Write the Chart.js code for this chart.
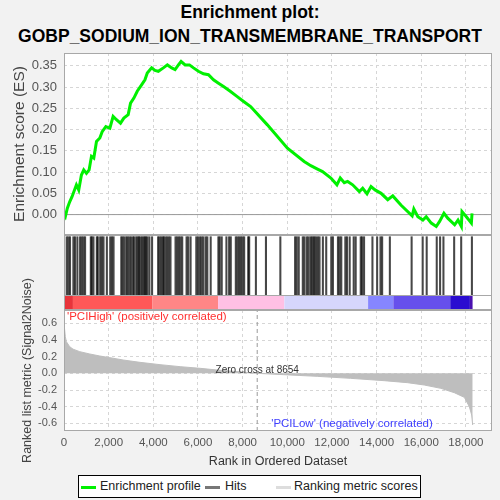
<!DOCTYPE html>
<html lang="en">
<head>
<meta charset="UTF-8" />
<title>Enrichment plot: GOBP_SODIUM_ION_TRANSMEMBRANE_TRANSPORT</title>
<script src="https://cdn.jsdelivr.net/npm/chart.js"></script>
<style>
  body { margin: 0; background: #f2f2f2; font-family: "Liberation Sans", Arial, sans-serif; }
  #wrap { position: relative; width: 500px; height: 500px; overflow: hidden; }
  canvas { position: absolute; left: 0; }
  #title { position: absolute; top: 0; left: 0; width: 500px; text-align: center;
           font-weight: bold; font-size: 17.5px; line-height: 24px; color: #000; }
  #legend { position: absolute; left: 78px; top: 475px; width: 341px; height: 21px;
            border: 1px solid #000; background: #fff; font-size: 12.5px; color: #222; }
  #legend .sw { position: absolute; top: 10px; height: 3px; width: 15px; }
  #legend .lb { position: absolute; top: 3px; white-space: nowrap; }
</style>
</head>
<body>
<div id="wrap">
  <div id="title">Enrichment plot:<br />GOBP_SODIUM_ION_TRANSMEMBRANE_TRANSPORT</div>
  <canvas id="esChart" width="500" height="236" style="top:0"></canvas>
  <canvas id="metricChart" width="500" height="250" style="top:250px"></canvas>
  <canvas id="hitChart" width="500" height="75" style="top:235px"></canvas>
  <div id="legend">
    <span class="sw" style="left:2px;background:#00f000"></span><span class="lb" style="left:21px">Enrichment profile</span>
    <span class="sw" style="left:126px;background:#777"></span><span class="lb" style="left:146px">Hits</span>
    <span class="sw" style="left:197px;background:#ddd"></span><span class="lb" style="left:215px">Ranking metric scores</span>
  </div>
</div>

<script>
  // data
  const xMax = 19170;
  const zeroCross = 8654;
  const xTicks = [0, 2000, 4000, 6000, 8000, 10000, 12000, 14000, 16000, 18000];
  const esTicks = [0, 0.05, 0.10, 0.15, 0.20, 0.25, 0.30, 0.35];
  const metricTicks = [-0.6, -0.4, -0.2, 0.0, 0.2, 0.4, 0.6];

  const esRanks = [0, 60, 150, 255, 360, 555, 660, 780, 885, 1005, 1125, 1230, 1335, 1455, 1605,
    1710, 1875, 2055, 2200, 2350, 2530, 2680, 2875, 2980, 3130, 3280, 3475, 3625, 3730, 3925,
    4075, 4225, 4450, 4630, 4825, 4975, 5125, 5245, 5425, 5620, 5800, 6020, 6245, 6470, 6695,
    6920, 7145, 7445, 7745, 8045, 8359, 9108, 10007, 10756, 11055, 11355, 11580, 11954, 12224,
    12374, 12554, 12703, 12928, 13228, 13378, 13572, 13752, 13932, 14202, 14501, 14726, 15100,
    15594, 15669, 15849, 16074, 16224, 16449, 16673, 16823, 17018, 17198, 17497, 17647, 17797,
    17827, 18021, 18246, 18276];
  const esValues = [0, -0.005, 0.015, 0.030, 0.042, 0.070, 0.058, 0.093, 0.105, 0.097, 0.105, 0.137,
    0.133, 0.172, 0.180, 0.195, 0.207, 0.203, 0.231, 0.223, 0.215, 0.227, 0.235, 0.262, 0.274,
    0.290, 0.305, 0.317, 0.333, 0.345, 0.339, 0.337, 0.345, 0.352, 0.345, 0.341, 0.352, 0.360,
    0.352, 0.352, 0.345, 0.337, 0.331, 0.329, 0.317, 0.309, 0.301, 0.290, 0.278, 0.266, 0.254,
    0.211, 0.156, 0.125, 0.115, 0.107, 0.101, 0.086, 0.070, 0.086, 0.075, 0.078, 0.070, 0.054,
    0.062, 0.049, 0.066, 0.058, 0.050, 0.035, 0.044, 0.022, -0.003, 0.013, -0.005, -0.013, -0.005,
    -0.020, -0.028, -0.016, 0.003, -0.009, -0.024, -0.013, -0.028, 0.007, -0.005, -0.020, 0.003];

  const hitRanks = [120, 195, 270, 420, 495, 600, 720, 795, 870, 945, 1200, 1245, 1320, 1470, 1515,
    1620, 1695, 1770, 1920, 2070, 2145, 2220, 2565, 2625, 2700, 2790, 2850, 2925, 3000, 3090,
    3150, 3240, 3300, 3360, 3420, 3495, 3570, 3615, 3675, 3735, 3825, 3945, 4215, 4275, 4350,
    4425, 4470, 4545, 4620, 4695, 4770, 4995, 5070, 5145, 5220, 5295, 5490, 5565, 5670, 5925,
    6000, 6090, 6165, 6240, 6345, 6420, 6570, 6915, 6975, 7065, 7275, 7395, 7470, 7695, 7770,
    7845, 7920, 7995, 8070, 8250, 8295, 8595, 9045, 9690, 10350, 10425, 10515, 10695, 10770,
    10875, 10950, 11040, 11100, 11175, 11220, 11295, 11370, 11445, 11595, 11745, 11970, 12045,
    12270, 12345, 12420, 12600, 12675, 12795, 12975, 13065, 13290, 13350, 13440, 13815, 14025,
    14175, 14250, 14595, 15570, 16065, 16245, 16695, 16845, 16995, 17475, 17790, 18270];

  const metricRanks = [0, 60, 105, 255, 405, 705, 1155, 1605, 2055, 2650, 3400, 4300, 5200, 6100,
    6850, 7600, 8654, 9840, 11340, 12840, 14340, 15385, 16135, 16880, 17480, 17930, 18155, 18260, 18305];
  const metricValues = [0.60, 0.44, 0.38, 0.32, 0.29, 0.26, 0.232, 0.208, 0.188, 0.16, 0.132, 0.104,
    0.08, 0.06, 0.04, 0.024, 0, -0.016, -0.036, -0.06, -0.088, -0.112, -0.14, -0.18, -0.232, -0.288,
    -0.40, -0.50, -0.62];

  // colour strip under the hits
  const bandEdges = [0, 400, 3950, 6900, 9870, 13620, 14750, 17300, 18180, 18300];
  const bandColors = ['#e8343a', '#ff5858', '#ff8686', '#ffc0e4', '#d6d6fc', '#8686ff', '#6650ec', '#2a0cd0', '#4a10b0'];

  const gridColor = '#d6d6d6';
  const frameColor = '#a8a8a8';
  const font = '"Liberation Sans", Arial, sans-serif';

  // white plot area and gray frame
  const panelFrame = {
    id: 'panelFrame',
    beforeDraw(chart) {
      const a = chart.chartArea, ctx = chart.ctx;
      ctx.save();
      ctx.fillStyle = '#fff';
      ctx.fillRect(a.left, a.top, a.right - a.left, a.bottom - a.top);
      ctx.restore();
    },
    afterDraw(chart) {
      const a = chart.chartArea, ctx = chart.ctx;
      ctx.save();
      ctx.strokeStyle = frameColor;
      ctx.lineWidth = 1;
      ctx.strokeRect(a.left + 0.5, a.top + 0.5, a.right - a.left - 1, a.bottom - a.top - 1);
      ctx.restore();
    }
  };

  function fixedTicks(list) {
    return (scale) => { scale.ticks = list.map(v => ({ value: v })); };
  }

  // force axis size and drop the label overflow padding
  function fitTo(size) {
    return (s) => {
      if (s.isHorizontal()) s.height = size; else s.width = size;
      s.paddingTop = s.paddingBottom = s.paddingLeft = s.paddingRight = 0;
    };
  }

  // Enrichment score panel
  new Chart(document.getElementById('esChart'), {
    type: 'line',
    data: {
      datasets: [
        { data: esRanks.map((r, i) => ({ x: r, y: esValues[i] })), borderColor: '#00f000',
          borderWidth: 3, pointRadius: 0, tension: 0 },
        { data: [{ x: 0, y: 0 }, { x: xMax, y: 0 }], borderColor: '#9a9a9a', borderWidth: 1, pointRadius: 0 }
      ]
    },
    options: {
      responsive: false, animation: false,
      layout: { padding: { top: 53, right: 8, bottom: 1, left: 0 } },
      plugins: { legend: { display: false }, tooltip: { enabled: false } },
      scales: {
        x: {
          type: 'linear', min: 0, max: xMax,
          afterBuildTicks: fixedTicks(xTicks),
          afterFit: fitTo(0),
          ticks: { display: false },
          grid: { color: gridColor, drawTicks: false },
          border: { display: false, dash: [3, 3] }
        },
        y: {
          min: -0.048, max: 0.38,
          afterBuildTicks: fixedTicks(esTicks),
          afterFit: fitTo(64),
          ticks: { padding: 7, color: '#555', font: { family: font, size: 13 },
                   callback: (v) => v.toFixed(2) },
          grid: { color: gridColor, drawTicks: false },
          border: { display: false, dash: [3, 3] },
          title: { display: true, text: 'Enrichment score (ES)', color: '#444',
                   font: { family: font, size: 15.5 }, padding: { top: 10, bottom: 2 } }
        }
      }
    },
    plugins: [panelFrame]
  });

  // hits and colour strip
  const hitTop = 73.3, hitBottom = 15;
  const stripPlugin = {
    id: 'strip',
    afterDatasetsDraw(chart) {
      const x = chart.scales.x, y = chart.scales.y, ctx = chart.ctx;
      const top = y.getPixelForValue(hitBottom), bottom = y.getPixelForValue(0);
      ctx.save();
      bandColors.forEach((c, i) => {
        const l = x.getPixelForValue(bandEdges[i]);
        const r = x.getPixelForValue(bandEdges[i + 1]);
        ctx.fillStyle = c;
        ctx.fillRect(l, top, r - l, bottom - top);
      });
      ctx.strokeStyle = frameColor;
      ctx.beginPath();
      ctx.moveTo(chart.chartArea.left, Math.round(top) + 0.5);
      ctx.lineTo(chart.chartArea.right, Math.round(top) + 0.5);
      ctx.stroke();
      ctx.restore();
    }
  };

  new Chart(document.getElementById('hitChart'), {
    type: 'bar',
    data: {
      datasets: [{
        data: hitRanks.map(r => ({ x: r, y: [hitBottom, hitTop] })),
        backgroundColor: 'rgba(0,0,0,0.72)', barThickness: 1.4, grouped: false
      }]
    },
    options: {
      responsive: false, animation: false,
      layout: { padding: { top: 0, right: 8, bottom: 0, left: 64 } },
      plugins: { legend: { display: false }, tooltip: { enabled: false } },
      scales: {
        x: { type: 'linear', min: 0, max: xMax, offset: false, display: false },
        y: { min: 0, max: 75, display: false }
      }
    },
    plugins: [panelFrame, stripPlugin]
  });

  // ranked list metric panel
  const metricLabels = {
    id: 'metricLabels',
    afterDatasetsDraw(chart) {
      const x = chart.scales.x, y = chart.scales.y, a = chart.chartArea, ctx = chart.ctx;
      ctx.save();
      ctx.font = '10px ' + font;
      ctx.fillStyle = '#333';
      ctx.textAlign = 'center';
      ctx.textBaseline = 'middle';
      ctx.fillText('Zero cross at ' + zeroCross, x.getPixelForValue(zeroCross), y.getPixelForValue(0) - 3);
      ctx.font = '11.5px ' + font;
      ctx.textAlign = 'left';
      ctx.fillStyle = '#ff3030';
      ctx.fillText("'PCIHigh' (positively correlated)", a.left + 3, a.top + 7);
      ctx.fillStyle = '#4040ff';
      ctx.textAlign = 'center';
      ctx.fillText("'PCILow' (negatively correlated)", x.getPixelForValue(12900), a.bottom - 7);
      ctx.restore();
    }
  };

  new Chart(document.getElementById('metricChart'), {
    type: 'line',
    data: {
      datasets: [
        { data: [{ x: zeroCross, y: -0.692 }, { x: zeroCross, y: 0.76 }], borderColor: '#999',
          borderWidth: 1, borderDash: [4, 3], pointRadius: 0 },
        { data: metricRanks.map((r, i) => ({ x: r, y: metricValues[i] })), borderColor: '#bebebe',
          backgroundColor: '#bebebe', borderWidth: 1, pointRadius: 0, fill: 'origin', tension: 0 }
      ]
    },
    options: {
      responsive: false, animation: false,
      layout: { padding: { top: 60, right: 8, bottom: 29, left: 0 } },
      plugins: { legend: { display: false }, tooltip: { enabled: false } },
      scales: {
        x: {
          type: 'linear', min: 0, max: xMax,
          afterBuildTicks: fixedTicks(xTicks),
          afterFit: fitTo(40),
          ticks: { padding: 5, color: '#555', maxRotation: 0, font: { family: font, size: 11.5 },
                   callback: (v) => v.toLocaleString('en-US') },
          grid: { color: gridColor, drawTicks: false },
          border: { display: false, dash: [3, 3] },
          title: { display: true, text: 'Rank in Ordered Dataset', color: '#333',
                   font: { family: font, size: 12.5 }, padding: { top: 0, bottom: 2 } }
        },
        y: {
          min: -0.692, max: 0.76,
          afterBuildTicks: fixedTicks(metricTicks),
          afterFit: fitTo(64),
          ticks: { padding: 7, color: '#555', font: { family: font, size: 11 },
                   callback: (v) => v.toFixed(1) },
          grid: { color: gridColor, drawTicks: false },
          border: { display: false, dash: [3, 3] },
          title: { display: true, text: 'Ranked list metric (Signal2Noise)', color: '#444',
                   font: { family: font, size: 12.5 }, padding: { top: 20, bottom: 2 } }
        }
      }
    },
    plugins: [panelFrame, metricLabels]
  });
</script>
</body>
</html>
